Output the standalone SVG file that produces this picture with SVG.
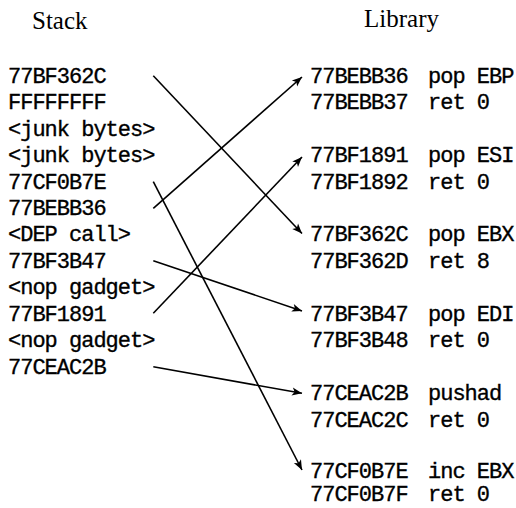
<svg xmlns="http://www.w3.org/2000/svg" width="516" height="508" viewBox="0 0 516 508">
<style>
.t{font-family:"Liberation Serif","Times New Roman",serif;font-size:25px;fill:#000}
.m{font-family:"Liberation Mono","Courier New",monospace;font-size:22px;letter-spacing:-1px;fill:#000;stroke:#000;stroke-width:0.35px}
.c{fill:none;stroke:#000;stroke-width:1.6px;marker-end:url(#ah)}
</style>
<defs>
<marker id="ah" markerUnits="userSpaceOnUse" viewBox="-1 -6 13 12" markerWidth="13" markerHeight="12" refX="10" refY="0" orient="auto" overflow="visible">
<path d="M10,0 L0,-4 L2.5,0 L0,4 Z" fill="#000"/>
</marker>
</defs>
<rect width="516" height="508" fill="#fff"/>
<g id="title-stack"><text class="t" x="32" y="29">Stack</text></g>
<g id="title-library"><text class="t" x="364" y="27">Library</text></g>
<g id="stack">
<g id="s0"><text class="m" x="8" y="82.7">77BF362C</text></g>
<g id="s1"><text class="m" x="8" y="109.2">FFFFFFFF</text></g>
<g id="s2"><text class="m" x="8" y="135.6">&lt;junk bytes&gt;</text></g>
<g id="s3"><text class="m" x="8" y="162.1">&lt;junk bytes&gt;</text></g>
<g id="s4"><text class="m" x="8" y="188.5">77CF0B7E</text></g>
<g id="s5"><text class="m" x="8" y="215.0">77BEBB36</text></g>
<g id="s6"><text class="m" x="8" y="241.4">&lt;DEP call&gt;</text></g>
<g id="s7"><text class="m" x="8" y="267.9">77BF3B47</text></g>
<g id="s8"><text class="m" x="8" y="294.3">&lt;nop gadget&gt;</text></g>
<g id="s9"><text class="m" x="8" y="320.8">77BF1891</text></g>
<g id="s10"><text class="m" x="8" y="347.2">&lt;nop gadget&gt;</text></g>
<g id="s11"><text class="m" x="8" y="373.7">77CEAC2B</text></g>
</g>
<g id="library">
<g id="l-ebp"><text class="m" x="310" y="82.7">77BEBB36</text><text class="m" x="428" y="82.7">pop EBP</text><text class="m" x="310" y="109.2">77BEBB37</text><text class="m" x="428" y="109.2">ret 0</text></g>
<g id="l-esi"><text class="m" x="310" y="162.1">77BF1891</text><text class="m" x="428" y="162.1">pop ESI</text><text class="m" x="310" y="188.5">77BF1892</text><text class="m" x="428" y="188.5">ret 0</text></g>
<g id="l-ebx"><text class="m" x="310" y="241.4">77BF362C</text><text class="m" x="428" y="241.4">pop EBX</text><text class="m" x="310" y="267.9">77BF362D</text><text class="m" x="428" y="267.9">ret 8</text></g>
<g id="l-edi"><text class="m" x="310" y="320.8">77BF3B47</text><text class="m" x="428" y="320.8">pop EDI</text><text class="m" x="310" y="347.2">77BF3B48</text><text class="m" x="428" y="347.2">ret 0</text></g>
<g id="l-pushad"><text class="m" x="310" y="400.1">77CEAC2B</text><text class="m" x="428" y="400.1">pushad</text><text class="m" x="310" y="426.6">77CEAC2C</text><text class="m" x="428" y="426.6">ret 0</text></g>
<g id="l-inc"><text class="m" x="310" y="477.5">77CF0B7E</text><text class="m" x="428" y="477.5">inc EBX</text><text class="m" x="310" y="501">77CF0B7F</text><text class="m" x="428" y="501">ret 0</text></g>
</g>
<g id="connectors">
<line class="c" x1="153.3" y1="75.7" x2="302" y2="233.5"/>
<line class="c" x1="153.3" y1="208.3" x2="302" y2="77"/>
<line class="c" x1="153.3" y1="181.7" x2="302" y2="470"/>
<line class="c" x1="153.3" y1="260.7" x2="302" y2="311"/>
<line class="c" x1="153.3" y1="313.3" x2="302" y2="157"/>
<line class="c" x1="153.3" y1="366.7" x2="302" y2="393.3"/>
</g>
</svg>
